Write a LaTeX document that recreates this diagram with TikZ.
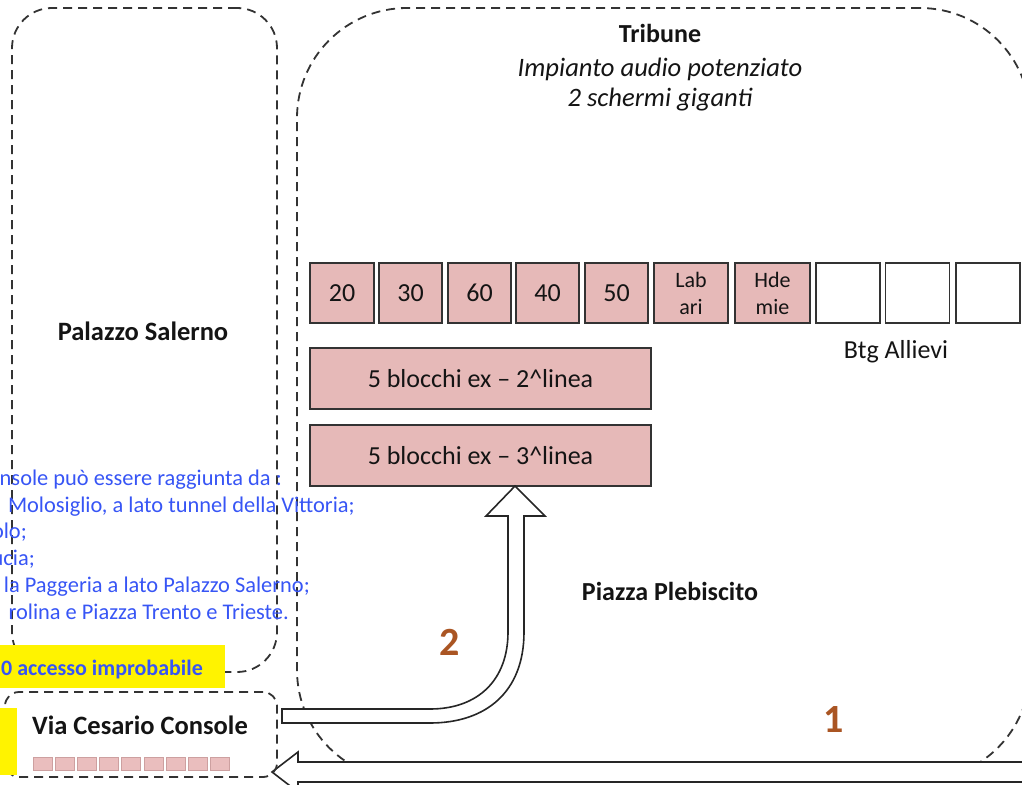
\documentclass[tikz,border=0pt]{standalone}
\usepackage{fontspec}
\setmainfont{Carlito}
\definecolor{pinkf}{RGB}{230,185,184}
\definecolor{bluet}{RGB}{55,85,245}
\definecolor{brownt}{RGB}{170,85,35}
\definecolor{yel}{RGB}{255,243,0}
\definecolor{sqf}{RGB}{234,190,190}
\definecolor{sqd}{RGB}{205,160,160}
\definecolor{ink}{RGB}{20,20,20}
\begin{document}
\begin{tikzpicture}[x=1pt,y=-1pt,
  font=\fontsize{26}{31}\selectfont, text=ink,
  dsh/.style={draw=black!80, line width=1.8pt, dash pattern=on 9pt off 6pt},
  region/.style={dsh, inner sep=0pt},
  pinkbox/.style={draw=black!80, line width=1.8pt, fill=pinkf, inner sep=0pt, minimum height=60pt},
  emptybox/.style={draw=black!80, line width=1.8pt, fill=white, inner sep=0pt, minimum height=60pt, minimum width=64pt},
  sq/.style={draw=sqd, line width=0.8pt, fill=sqf, inner sep=0pt, minimum width=19pt, minimum height=13pt},
  bt/.style={text=bluet, font=\fontsize{22.4}{27}\selectfont, inner sep=0pt, anchor=base east},
  lbl/.style={inner sep=0pt, anchor=base},
  num/.style={text=brownt, font=\fontsize{40}{40}\selectfont\bfseries, inner sep=0pt},
  blockarrow/.style={draw=black!85, line width=1.6pt, fill=white, line join=miter}
]
\useasboundingbox (0,0) rectangle (1022,784);
\clip (0,0) rectangle (1022,784);

% regions
\node[region, rounded corners=110pt, minimum width=733pt, minimum height=772pt] (piazza) at (663.5,394) {};
\node[region, rounded corners=40pt, minimum width=265pt, minimum height=664pt] (palazzo) at (144.5,340) {};

% arrow 1 (from the right to Via Cesario Console)
\coordinate (tip1) at (272,772);
\draw[blockarrow] (1040,762) -- (298,762) -- (298,752) -- (tip1) -- (298,792) -- (298,782) -- (1040,782) -- cycle;

\node[region, rounded corners=14pt, minimum width=272pt, minimum height=85pt] (via) at (141,734.5) {};

% yellow highlights
\fill[yel] (0,645) rectangle (225,688);
\fill[yel] (0,708) rectangle (17,775);

% titles
\node[lbl, font=\fontsize{26}{31}\selectfont\bfseries] (trib) at (660,43) {Tribune};
\node[lbl, font=\fontsize{26.6}{31}\selectfont\itshape] (imp) at (660,76) {Impianto audio potenziato};
\node[lbl, font=\fontsize{26.6}{31}\selectfont\itshape] (sch) at (660,106) {2 schermi giganti};

% row of blocks
\node[pinkbox, minimum width=64pt] (b20) at (342,293) {20};
\node[pinkbox, minimum width=63pt] (b30) at (410.5,293) {30};
\node[pinkbox, minimum width=63pt] (b60) at (479.5,293) {60};
\node[pinkbox, minimum width=63pt] (b40) at (547.5,293) {40};
\node[pinkbox, minimum width=63pt] (b50) at (616.5,293) {50};
\node[pinkbox, minimum width=74pt, align=center, font=\fontsize{22}{27}\selectfont] (lab) at (691,293) {Lab\\ari};
\node[pinkbox, minimum width=75pt, align=center, font=\fontsize{22}{27}\selectfont] (hde) at (772.5,293) {Hde\\mie};
\node[emptybox] (e1) at (848,293) {};
\node[emptybox] (e2) at (917.5,293) {};
\node[emptybox] (e3) at (988,293) {};
\node[lbl] (btg) at (896,358) {Btg Allievi};

\node[pinkbox, minimum width=341pt, minimum height=61pt] (l2) at (480.5,378.5) {5 blocchi ex -- 2\^{}linea};
\node[pinkbox, minimum width=341pt, minimum height=61pt] (l3) at (480.5,455.5) {5 blocchi ex -- 3\^{}linea};

% place names
\node[lbl, font=\fontsize{26.5}{31}\selectfont\bfseries] (pal) at (143,340) {Palazzo Salerno};
\node[lbl, font=\fontsize{26}{31}\selectfont\bfseries] (ple) at (670,600) {Piazza Plebiscito};
\node[inner sep=0pt, anchor=base west, font=\fontsize{26.5}{31}\selectfont\bfseries] (viat) at (32,734) {Via Cesario Console};

% small squares
\foreach \i in {0,...,8} \node[sq] (s\i) at ({42.5+22.2*\i},764) {};

% blue notes
\node[bt] (t1) at (282,485) {nsole può essere raggiunta da :};
\node[bt] (t2) at (355,512) {Molosiglio, a lato tunnel della Vittoria;};
\node[bt] (t3) at (27,538) {olo;};
\node[bt] (t4) at (35,565) {ucia;};
\node[bt] (t5) at (310,592) {la Paggeria a lato Palazzo Salerno;};
\node[bt] (t6) at (289,619) {rolina e Piazza Trento e Trieste.};
\node[bt, font=\fontsize{22}{27}\selectfont\bfseries] (t7) at (203,675) {0 accesso improbabile};

% arrow 2 (from Via Cesario Console up to 3^linea)
\coordinate (tip2) at (515,486);
\draw[blockarrow] (282,709) -- (430,709) .. controls (478,709) and (508,680) .. (508,632)
  -- (508,516) -- (486,516) -- (tip2) -- (545,516) -- (524,516) -- (524,632)
  .. controls (524,692) and (486,723) .. (430,723) -- (282,723) -- cycle;

% numbers
\node[num] (n2) at (450,642) {2};
\node[num] (n1) at (834,720) {1};
\end{tikzpicture}
\end{document}
